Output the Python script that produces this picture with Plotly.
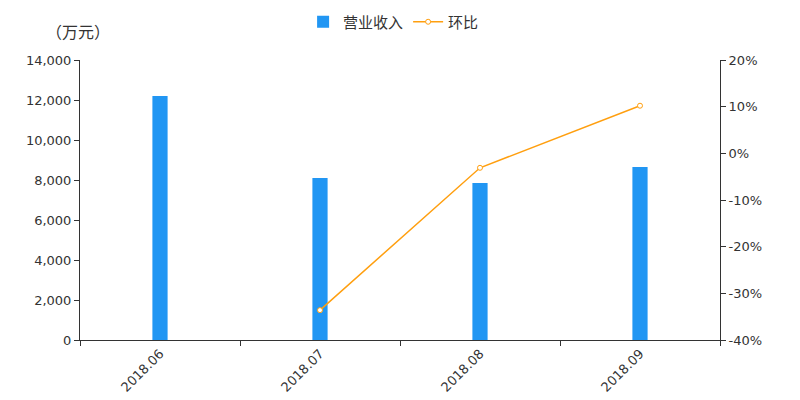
import plotly.graph_objects as go

categories = ["2018.06", "2018.07", "2018.08", "2018.09"]
revenue = [12200, 8100, 7850, 8650]
mom_cats = ["2018.07", "2018.08", "2018.09"]
mom = [-33.6, -3.1, 10.2]

left_ticks = [0, 2000, 4000, 6000, 8000, 10000, 12000, 14000]
left_labels = ["0", "2,000", "4,000", "6,000", "8,000", "10,000", "12,000", "14,000"]
right_ticks = [-40, -30, -20, -10, 0, 10, 20]
right_labels = ["-40%", "-30%", "-20%", "-10%", "0%", "10%", "20%"]

font = dict(family="DejaVu Sans", size=13, color="#333333")

fig = go.Figure()
fig.add_trace(go.Bar(
    x=categories, y=revenue, name="营业收入",
    marker=dict(color="#2196F3", line=dict(width=0)),
    width=0.095,
))
fig.add_trace(go.Scatter(
    x=mom_cats, y=mom, name="环比", yaxis="y2", mode="lines+markers",
    line=dict(color="#FF9F0F", width=1.5),
    marker=dict(symbol="circle", size=5, color="white", line=dict(color="#FF9F0F", width=1)),
))

fig.update_layout(
    width=800, height=400,
    margin=dict(l=72, r=88, t=52, b=68, autoexpand=False),
    paper_bgcolor="white", plot_bgcolor="white",
    font=font,
    showlegend=True,
    legend=dict(orientation="h", x=0.49, xanchor="center", y=0.965, yanchor="middle",
                yref="container", font=dict(family="Noto Sans CJK SC", size=15, color="#333333"),
                tracegroupgap=0),
    xaxis=dict(
        type="category", tickson="boundaries", ticks="outside", ticklen=5,
        tickcolor="#333333", showline=True, linecolor="#333333", linewidth=1,
        tickangle=-45, showgrid=False, zeroline=False, range=[-0.5, 3.5],
        automargin=False,
    ),
    yaxis=dict(
        range=[0, 14000], tickvals=left_ticks, ticktext=left_labels,
        ticks="outside", ticklen=5, tickcolor="#333333",
        showline=True, linecolor="#333333", linewidth=1,
        showgrid=False, zeroline=False, automargin=False,
    ),
    yaxis2=dict(
        range=[-40, 20], tickvals=right_ticks, ticktext=right_labels,
        overlaying="y", side="right",
        ticks="outside", ticklen=5, tickcolor="#333333",
        showline=True, linecolor="#333333", linewidth=1,
        showgrid=False, zeroline=False, automargin=False,
    ),
    annotations=[dict(
        text="（万元）", x=0, xref="paper", xanchor="center", xshift=-2,
        y=1, yref="paper", yanchor="bottom", yshift=15, showarrow=False,
        font=dict(family="Noto Sans CJK SC", size=16, color="#333333"),
    )],
)

fig.write_html("out.html")
